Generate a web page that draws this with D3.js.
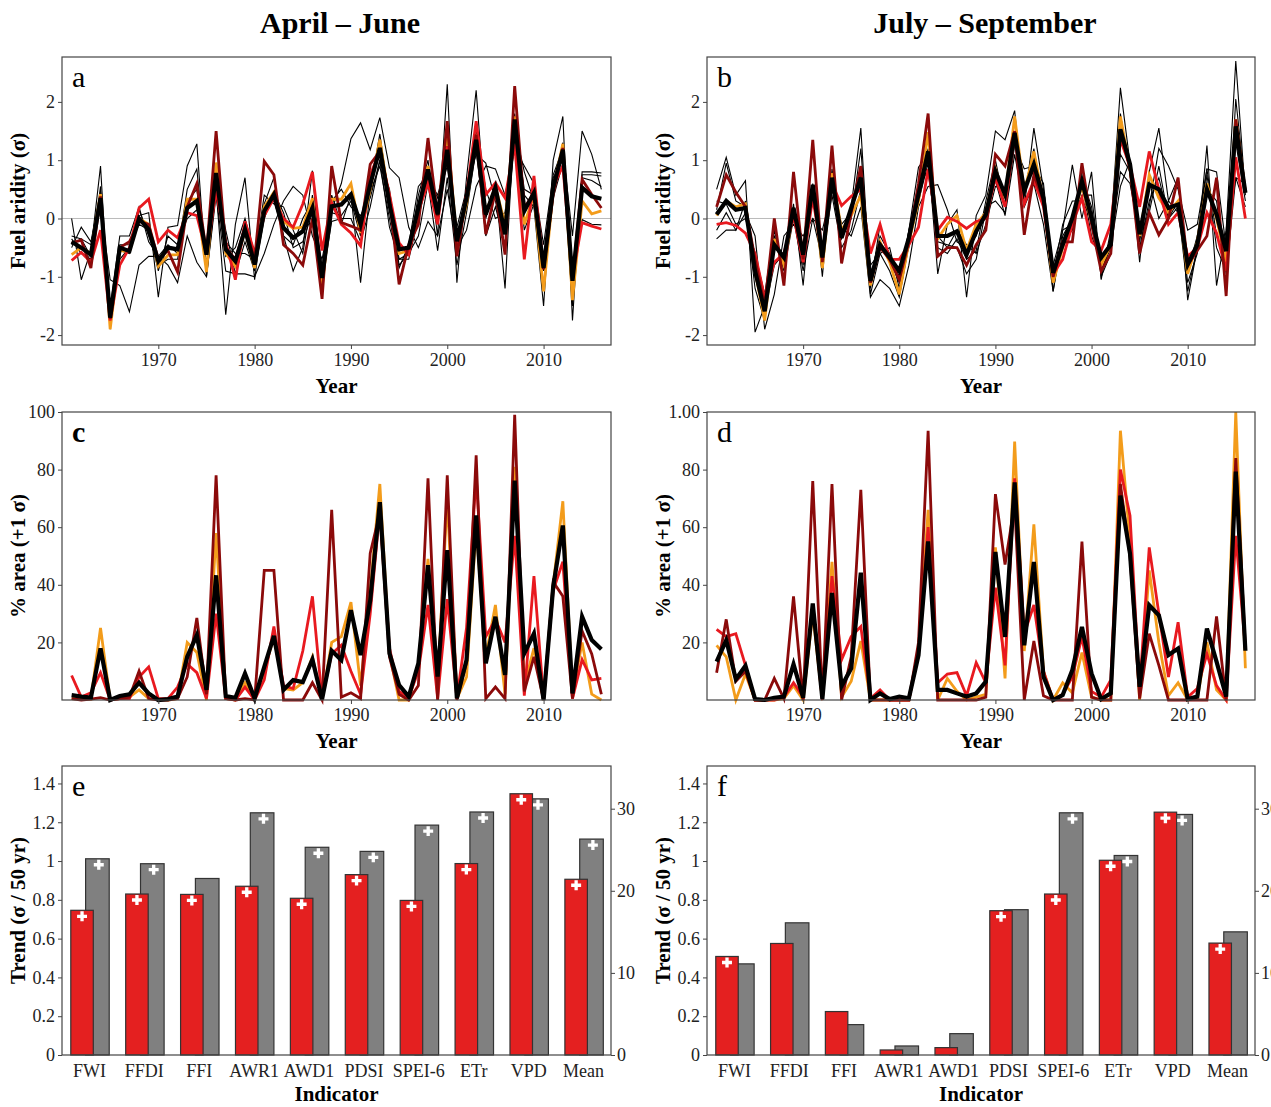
<!DOCTYPE html>
<html>
<head>
<meta charset="utf-8">
<script src="https://cdn.jsdelivr.net/npm/d3@7"></script>
<style>body{margin:0;background:#fff}</style>
</head>
<body>
<script>
var years = d3.range(1961, 2017);
var yearTicks = [1970, 1980, 1990, 2000, 2010];

// ---- panel a : April-June fuel aridity (sigma) ----
var aMean = [-0.4,-0.5,-0.62,0.35,-1.7,-0.5,-0.56,0.0,-0.19,-0.73,
  -0.5,-0.53,0.18,0.3,-0.62,0.78,-0.53,-0.73,-0.19,-0.79,
  0.13,0.41,-0.16,-0.33,-0.22,0.18,-1.02,0.21,0.24,0.41,
  -0.1,0.58,1.21,0.24,-0.53,-0.5,0.18,0.84,0.07,1.18,
  -0.39,0.35,1.35,0.07,0.53,-0.27,1.7,0.13,0.44,-0.85,
  0.53,1.18,-1.07,0.53,0.38,0.34];
var aOrange = [-0.62,-0.5,-0.6,0.42,-1.9,-0.55,-0.57,0.0,-0.1,-0.82,
  -0.63,-0.62,0.33,0.33,-0.92,0.96,-0.6,-0.82,-0.2,-0.85,
  0.2,0.45,-0.05,-0.17,-0.15,0.35,-1.2,0.33,0.33,0.6,
  -0.25,0.5,1.35,0.3,-0.6,-0.55,0.1,0.9,0.05,1.5,
  -0.4,0.25,1.45,0.1,0.55,-0.1,1.75,-0.1,0.4,-1.25,
  0.5,1.28,-1.4,0.3,0.08,0.13];
var aRed = [-0.72,-0.58,-0.75,-0.2,-1.75,-0.8,-0.5,0.18,0.33,-0.4,
  -0.2,-0.33,0.1,0.05,-0.6,0.47,-0.4,-1.05,-0.05,-0.6,
  0.05,0.35,0.0,-0.15,0.25,0.8,-0.55,0.27,-0.1,-0.25,
  -0.47,0.75,1.15,0.41,-0.42,-0.62,0.13,0.61,-0.1,1.24,
  -0.5,0.41,1.67,0.41,0.61,0.35,1.27,-0.7,0.73,-0.85,
  0.55,0.9,-1.0,-0.07,-0.13,-0.18];
var aDark = [-0.42,-0.37,-0.85,0.38,-1.72,-0.5,-0.4,-0.05,-0.1,-0.7,
  -0.55,-0.92,0.2,0.6,-0.6,1.5,-0.5,-0.7,-0.15,-0.7,
  0.98,0.75,-0.45,-0.6,-0.8,0.0,-1.38,0.9,-0.07,-0.13,
  -0.2,0.93,1.15,0.35,-1.13,-0.45,-0.1,1.38,0.04,1.67,
  -0.65,0.41,1.44,-0.27,0.47,-0.62,2.27,0.18,0.44,-0.87,
  0.41,1.21,-1.07,0.67,0.41,0.18];
var aThin1 = [0.0,-1.05,-0.55,0.9,-1.9,-0.45,-0.45,0.05,0.1,-1.35,
  -0.15,-0.12,0.9,1.28,-1.0,0.5,-1.65,-0.1,0.7,-1.05,
  0.25,0.7,-0.3,-0.9,-0.5,0.82,-1.2,0.4,-0.1,0.4,
  -1.1,0.5,1.45,0.3,-0.8,-0.6,0.4,1.0,-0.3,2.3,
  -1.1,0.7,2.2,0.0,0.6,-1.2,1.8,0.4,0.2,-1.5,
  1.0,1.75,-1.75,0.8,0.8,0.78];
var aThin2 = [-0.3,-0.35,-0.45,0.2,-1.05,-1.15,-1.6,-0.8,-0.65,-0.65,
  -0.8,-1.1,-0.3,-0.75,-1.0,0.4,-0.9,-0.95,-0.95,-1.0,
  -0.6,-0.1,0.3,0.55,0.4,-0.3,-0.7,0.15,0.6,1.37,
  1.64,1.18,1.73,0.87,0.7,-0.15,-0.5,-0.05,-0.3,0.5,
  -0.5,-0.2,0.55,0.9,0.85,0.4,1.2,0.9,0.6,-0.45,
  0.75,1.2,-0.3,1.5,1.1,0.5];
var aThin3 = [-0.5,-0.15,-0.4,0.45,-1.55,-0.3,-0.3,0.2,-0.4,-0.65,
  -0.45,-0.6,0.5,0.85,-0.85,0.6,-0.4,-0.6,-0.6,-0.7,
  0.4,0.25,0.2,-0.2,-0.6,0.4,-0.85,0.1,0.05,0.3,
  -0.3,0.45,0.9,0.0,-0.85,-0.45,0.55,0.75,0.35,0.9,
  -0.15,0.5,1.1,0.95,0.3,-0.5,1.65,0.5,0.4,-0.9,
  0.5,1.3,-1.3,0.75,0.75,0.73];
var aThin4 = [-0.35,-0.6,-0.7,0.55,-1.8,-0.55,-0.6,0.15,-0.3,-0.8,
  -0.7,-0.7,0.3,0.5,-0.8,0.7,-0.2,-0.95,-0.4,-0.9,
  0.0,0.45,0.1,-0.5,-0.4,0.1,-0.9,0.3,0.5,0.2,
  0.05,0.35,1.0,0.5,-0.7,-0.7,0.0,0.7,0.4,1.0,
  -0.4,0.2,1.5,0.5,0.0,0.1,1.55,0.8,0.3,-0.8,
  0.35,0.95,-0.9,-0.02,-0.1,-0.11];
var aThin5 = [-0.45,-0.35,-0.65,0.25,-1.6,-0.7,-0.5,-0.1,-0.2,-0.9,
  -0.3,-0.45,0.0,0.15,-0.5,0.9,-0.65,-0.5,0.0,-0.6,
  0.2,0.3,-0.3,-0.45,0.0,0.3,-1.1,-0.05,0.0,0.0,
  -0.4,0.2,1.0,-0.15,-0.7,-0.6,-0.3,0.6,-0.55,0.7,
  -0.8,0.1,1.2,-0.3,0.2,-0.45,1.4,-0.2,0.25,-1.2,
  0.7,1.0,-1.5,0.7,0.65,0.55];

// ---- panel b : July-September fuel aridity (sigma) ----
var bMean = [0.07,0.3,0.15,0.18,-0.9,-1.59,-0.45,-0.67,0.18,-0.62,
  0.58,-0.67,0.7,-0.33,0.18,0.7,-1.07,-0.45,-0.67,-0.9,
  -0.33,0.41,1.15,-0.3,-0.3,-0.22,-0.62,-0.22,0.07,0.81,
  0.41,1.47,0.47,0.93,0.35,-0.93,-0.45,0.01,0.64,0.01,
  -0.67,-0.45,1.53,0.93,-0.27,0.58,0.5,0.18,0.24,-0.79,
  -0.45,0.5,0.07,-0.56,1.58,0.44];
var bOrange = [0.05,0.3,0.2,0.25,-0.9,-1.75,-0.35,-0.8,0.15,-0.65,
  0.55,-0.85,0.78,-0.2,0.05,0.4,-1.15,-0.4,-0.75,-1.3,
  -0.4,0.3,1.48,-0.35,-0.1,0.05,-0.55,-0.1,0.1,0.85,
  0.35,1.75,0.45,1.15,0.3,-1.1,-0.5,0.0,0.55,-0.05,
  -0.8,-0.45,1.75,0.85,-0.3,0.75,0.35,0.1,0.3,-0.95,
  -0.4,0.6,0.0,-0.75,1.7,0.45];
var bRed = [-0.1,-0.07,-0.12,-0.25,-0.6,-1.36,-0.75,-0.6,0.05,-0.75,
  0.35,-0.65,0.6,0.22,0.38,0.5,-0.6,-0.1,-0.7,-0.7,
  -0.45,-0.15,0.85,-0.2,0.02,-0.05,-0.17,-0.05,0.0,0.7,
  0.2,1.45,0.25,0.65,0.2,-0.95,-0.7,-0.1,0.35,-0.4,
  -0.55,-0.1,1.35,0.9,0.2,1.15,0.5,-0.1,0.1,-0.65,
  -0.5,0.1,-0.25,-0.9,1.05,0.0];
var bDark = [0.2,0.75,0.45,0.2,-0.7,-1.5,0.0,-1.15,0.8,-0.7,
  1.35,-0.75,1.25,-0.77,0.1,0.9,-1.1,-0.5,-0.7,-1.05,
  -0.4,0.6,1.8,-0.65,-0.5,-0.5,-0.8,-0.45,-0.2,1.1,
  0.9,1.5,-0.28,0.75,0.3,-1.0,-0.4,-0.4,0.95,-0.1,
  -0.9,-0.6,1.5,0.85,-0.6,0.1,-0.28,0.0,0.7,-0.8,
  -0.55,-0.3,0.7,-1.33,1.7,0.45];
var bThin1 = [0.5,1.05,0.4,0.65,-1.95,-1.5,-0.3,-0.7,0.25,-1.15,
  0.6,-1.0,0.85,-0.3,0.2,1.55,-1.2,-0.1,-0.7,-1.1,
  -0.2,0.88,1.1,-0.95,-0.1,0.15,-1.35,0.05,0.4,1.5,
  1.35,1.85,0.2,1.55,0.5,-1.25,-0.2,0.92,0.0,0.8,
  -1.05,-0.2,2.24,0.95,-0.75,0.8,1.55,0.3,0.7,-1.4,
  -0.5,1.25,-1.15,-0.2,2.7,0.4];
var bThin2 = [-0.35,-0.2,-0.2,0.1,-0.3,-1.9,-1.3,-0.3,-0.1,-0.3,
  0.0,-0.2,0.5,-0.15,-0.3,0.2,-1.35,-1.05,-1.2,-1.5,
  -0.8,0.2,0.55,0.58,0.15,-0.4,-0.5,-0.3,0.2,0.3,
  0.1,1.25,0.85,0.9,0.6,-1.0,-0.1,0.3,0.3,0.0,
  -0.9,-0.5,0.55,1.0,-0.55,0.2,1.2,0.9,0.5,-0.2,
  -0.1,0.85,0.8,-0.5,0.7,0.6];
var bThin3 = [0.15,0.95,0.3,0.2,-1.2,-1.75,-0.45,-0.75,0.1,-0.8,
  0.45,-0.85,0.6,-0.35,0.0,1.2,-1.0,-0.3,-0.6,-1.0,
  -0.5,0.5,1.2,-0.5,-0.6,-0.35,-0.7,-0.55,0.3,1.0,
  0.2,1.5,0.45,1.2,0.2,-1.1,-0.4,-0.2,0.6,-0.3,
  -0.75,-0.35,1.8,0.75,-0.5,0.3,0.7,0.0,0.3,-1.1,
  -0.6,0.75,-0.5,-0.9,2.05,0.5];
var bThin4 = [-0.2,0.1,-0.2,0.3,-1.0,-1.6,-0.8,-0.6,0.2,-0.5,
  0.3,-0.5,0.55,-0.1,0.1,0.75,-1.3,-0.6,-0.9,-1.35,
  -0.45,0.3,0.95,-0.3,-0.5,-0.2,-0.45,-0.6,-0.1,0.55,
  0.5,1.3,0.6,0.8,0.4,-0.8,-0.2,-0.1,0.4,0.4,
  -1.0,-0.6,1.1,0.8,-0.4,0.65,0.0,0.3,0.1,-0.9,
  -0.3,0.85,-0.3,-0.7,1.3,0.3];
var bThin5 = [0.3,0.25,-0.1,0.0,-0.6,-1.3,-0.2,-0.9,0.0,-0.9,
  0.0,-0.7,0.4,-0.5,-0.2,0.5,-0.8,-0.6,-0.5,-1.2,
  -0.2,0.6,0.8,-0.4,-0.45,-0.5,-0.95,-0.7,0.15,0.65,
  0.05,1.1,0.2,0.6,-0.1,-1.25,-0.3,0.0,0.7,0.2,
  -0.95,-0.4,0.8,0.6,-0.3,0.1,0.9,0.0,0.2,-1.25,
  -0.5,0.5,0.3,-0.95,0.7,0.2];

// ---- panel c : April-June % area above +1 sigma ----
var cMean = [1.7,1.2,0.8,17.9,0,1.4,2.0,6.0,2.3,0,
  0.3,1.2,15,22.5,3.5,43.3,1.4,0.8,9.2,0.6,
  11.5,22.3,3.5,6.9,6.2,14.1,0.2,17.1,13.9,31.2,
  15.6,34.6,68.7,16.2,5.2,1.2,12.7,46.8,8.1,52,
  0.6,13.9,64.1,12.7,28.9,8.7,76.2,16.2,23.1,0,
  39.3,60.6,2.3,28.9,20.8,17.6];
var cOrange = [0.5,0.3,0.3,25,0,0.5,1.0,3.5,0.5,0.3,
  0,0.5,20,16.5,0,58,0.5,0,6,0.5,
  10,22,4,3.5,6,15,0,20,22,34,
  5,38,75,16,0,0,12,49,6,70,
  0.5,8,60,15,33,2,81,5,18,0,
  40,69,2,20,2,0];
var cRed = [8.5,1,2.5,9.5,0,0.5,0.5,8,11.5,0.5,
  0.5,4.5,12.5,9.5,0.5,30,0.5,0,4.5,0,
  7,25.5,5,4,17,36,0.5,16,19,10,
  2,30,66,18,3,1,10,33,0.5,35,
  0.5,25,78,22,28,20,57,1.5,43,0.5,
  38,48,0.5,14,7,7.5];
var cDark = [0.5,0,0.3,0.8,0,0.5,1,10,0.5,0,
  0,0.5,8,28.5,2,78,0.5,0,0.5,0,
  45,45,0,0,0,6,0,66,1,2.5,
  0.5,51,65,15,2,0,5,77,0,78,
  0,13,85,0.5,4.5,0.5,99,3,15,0,
  41,36,0.5,24,16,2];

// ---- panel d : July-September % area above +1 sigma ----
var dMean = [13.3,20.8,7.2,11.9,0.3,0,0.8,1.2,12.4,0.8,
  33.5,0.3,37.2,4.8,11,44.2,0,2.3,0.3,1.2,
  0.6,15.6,55.1,3.5,3.5,2.3,1.2,2.3,6.4,51.4,
  21.9,75.6,19,47.9,8.1,0,1.7,10.4,25.4,9.2,
  0.3,2.3,71,50.8,4.6,32.9,29.4,15.6,17.9,0.3,
  1.2,24.8,13.3,1.2,79.3,17.1];
var dOrange = [19,15,0,9,0,0,0,0.5,5,0,
  30,0,48,1,6.5,20.5,0,0,0,0,
  0,17,66,0,7.5,3,0,1,2,53,
  7.5,89.7,17,61,10,0,6,2.5,16.5,1,
  0,0,93.5,55,0,45,20,1.5,6,0,
  0.5,20,3.5,0,100,11];
var dRed = [24.5,22,23,12,0,0,0,1,6,1,
  32,0,43,14,22,25.5,0.5,3.5,0,0,
  0,17,60,6,9,9.5,1.5,13,6,39,
  12,77,23,33,10,0,2,8,22,3,
  1,7,80,64,4,53,30,8,27,1,
  4,16,5,0,57,18];
var dDark = [9.5,28,6.5,10,0,0,7.5,0.5,36,0,
  76,0,75,0,15,73,0,0,0,0,
  0,20,93.5,0,0,0,0,0,1,71.5,
  47,68,0,20.5,1.5,0,0,0,55,1,
  0,0,75,50,0.5,23,12,0,0,0,
  0,0,29,0,84,18];

// ---- panels e, f : trends ----
var indicators = ["FWI","FFDI","FFI","AWR1","AWD1","PDSI","SPEI-6","ETr","VPD","Mean"];
var eTrend = [0.746,0.83,0.828,0.87,0.808,0.93,0.797,0.987,1.347,0.906];
var eArea  = [23.9,23.3,21.5,29.5,25.3,24.8,28.0,29.6,31.2,26.3];
var eTrendSig = [1,1,1,1,1,1,1,1,1,1];
var eAreaSig  = [1,1,0,1,1,1,1,1,1,1];
var fTrend = [0.508,0.575,0.224,0.026,0.038,0.744,0.83,1.004,1.252,0.577];
var fArea  = [11.1,16.1,3.7,1.1,2.6,17.7,29.5,24.3,29.3,15.0];
var fTrendSig = [1,0,0,0,0,1,1,1,1,1];
var fAreaSig  = [0,0,0,0,0,0,1,1,1,0];

var colOrange = "#f39c1b", colRed = "#e8191f", colDark = "#8b0a0a";
var serif = "'Liberation Serif', 'Times New Roman', serif";
var cols = [{x0: 62, x1: 611}, {x0: 707, x1: 1255}];

var svg = d3.select("body").append("svg")
    .attr("width", 1271).attr("height", 1107)
    .style("font-family", serif);

// column titles
svg.append("text").attr("x", 340).attr("y", 33).attr("text-anchor", "middle")
    .attr("font-size", 30).attr("font-weight", "bold").text("April \u2013 June");
svg.append("text").attr("x", 985).attr("y", 33).attr("text-anchor", "middle")
    .attr("font-size", 30).attr("font-weight", "bold").text("July \u2013 September");

function styleAxis(g) {
    g.select(".domain").remove();
    g.selectAll(".tick line").attr("stroke", "#444");
    g.selectAll(".tick text").attr("font-family", serif).attr("font-size", 18).attr("fill", "#222");
}

function frame(col, top, bottom) {
    svg.append("rect").attr("x", col.x0).attr("y", top)
        .attr("width", col.x1 - col.x0).attr("height", bottom - top)
        .attr("fill", "none").attr("stroke", "#444").attr("stroke-width", 1.2);
}

function yLabel(col, top, bottom, label) {
    svg.append("text")
        .attr("transform", "translate(" + (col.x0 - 37) + "," + ((top + bottom) / 2) + ") rotate(-90)")
        .attr("text-anchor", "middle").attr("font-size", 21).attr("font-weight", "bold")
        .text(label);
}

function letter(col, top, txt, bold) {
    svg.append("text").attr("x", col.x0 + 10).attr("y", top + 30)
        .attr("font-size", 30).attr("font-weight", bold ? "bold" : "normal").text(txt);
}

function linePanel(col, top, bottom, opts) {
    var x = d3.scaleLinear().domain([1960, 2017]).range([col.x0, col.x1]);
    var y = d3.scaleLinear().domain(opts.yDomain).range([bottom, top]);

    if (opts.zero) {
        svg.append("line").attr("x1", col.x0).attr("x2", col.x1)
            .attr("y1", y(0)).attr("y2", y(0)).attr("stroke", "#bbb").attr("stroke-width", 1);
    }

    var line = d3.line().x(function (d, i) { return x(years[i]); }).y(function (d) { return y(d); });

    (opts.thin || []).forEach(function (s) {
        svg.append("path").datum(s).attr("d", line).attr("fill", "none")
            .attr("stroke", "#000").attr("stroke-width", 1.1).attr("stroke-linejoin", "miter");
    });
    opts.series.forEach(function (s) {
        svg.append("path").datum(s.values).attr("d", line).attr("fill", "none")
            .attr("stroke", s.color).attr("stroke-width", s.width).attr("stroke-linejoin", "miter");
    });

    frame(col, top, bottom);

    svg.append("g").attr("transform", "translate(0," + bottom + ")")
        .call(d3.axisBottom(x).tickValues(yearTicks).tickFormat(d3.format("d")).tickSize(4).tickPadding(4))
        .call(styleAxis);
    svg.append("g").attr("transform", "translate(" + col.x0 + ",0)")
        .call(d3.axisLeft(y).tickValues(opts.yTicks).tickFormat(opts.yFormat).tickSize(4).tickPadding(3))
        .call(styleAxis);

    svg.append("text").attr("x", (col.x0 + col.x1) / 2).attr("y", bottom + 48)
        .attr("text-anchor", "middle").attr("font-size", 21).attr("font-weight", "bold").text("Year");
    yLabel(col, top, bottom, opts.yLabel);
    letter(col, top, opts.letter, opts.letterBold);
}

function barPanel(col, top, bottom, trend, area, trendSig, areaSig, txt) {
    var x = d3.scaleBand().domain(indicators).range([col.x0, col.x1]);
    var yL = d3.scaleLinear().domain([0, 1.49]).range([bottom, top]);
    var yR = d3.scaleLinear().domain([0, 35.2]).range([bottom, top]);
    var bw = x.bandwidth();
    var cx = function (i) { return x(indicators[i]) + bw / 2; };

    svg.append("g").selectAll("rect").data(area).enter().append("rect")
        .attr("x", function (d, i) { return cx(i) - 0.07 * bw; })
        .attr("width", 0.43 * bw)
        .attr("y", function (d) { return yR(d); })
        .attr("height", function (d) { return bottom - yR(d); })
        .attr("fill", "#808080").attr("stroke", "#333").attr("stroke-width", 1.2);

    svg.append("g").selectAll("rect").data(trend).enter().append("rect")
        .attr("x", function (d, i) { return cx(i) - 0.34 * bw; })
        .attr("width", 0.41 * bw)
        .attr("y", function (d) { return yL(d); })
        .attr("height", function (d) { return bottom - yL(d); })
        .attr("fill", "#e42020").attr("stroke", "#333").attr("stroke-width", 1.2);

    var cross = d3.symbol().type(d3.symbolCross).size(55);
    trend.forEach(function (d, i) {
        if (!trendSig[i]) return;
        svg.append("path").attr("d", cross)
            .attr("transform", "translate(" + (cx(i) - 0.135 * bw) + "," + (yL(d) + 6) + ")")
            .attr("fill", "#fff");
    });
    area.forEach(function (d, i) {
        if (!areaSig[i]) return;
        svg.append("path").attr("d", cross)
            .attr("transform", "translate(" + (cx(i) + 0.17 * bw) + "," + (yR(d) + 6) + ")")
            .attr("fill", "#fff");
    });

    frame(col, top, bottom);

    svg.append("g").attr("transform", "translate(0," + bottom + ")")
        .call(d3.axisBottom(x).tickSize(0).tickPadding(9))
        .call(styleAxis);
    svg.append("g").attr("transform", "translate(" + col.x0 + ",0)")
        .call(d3.axisLeft(yL).tickValues([0, 0.2, 0.4, 0.6, 0.8, 1, 1.2, 1.4])
            .tickFormat(function (d) { return String(+d.toFixed(1)); }).tickSize(4).tickPadding(3))
        .call(styleAxis);
    svg.append("g").attr("transform", "translate(" + col.x1 + ",0)")
        .call(d3.axisRight(yR).tickValues([0, 10, 20, 30]).tickSize(4).tickPadding(2))
        .call(styleAxis);

    svg.append("text").attr("x", (col.x0 + col.x1) / 2).attr("y", bottom + 46)
        .attr("text-anchor", "middle").attr("font-size", 21).attr("font-weight", "bold").text("Indicator");
    yLabel(col, top, bottom, "Trend (\u03c3 / 50 yr)");
    letter(col, top, txt, false);
}

var sigFormat = function (d) { return String(d); };

linePanel(cols[0], 57, 345, {
    yDomain: [-2.17, 2.77], yTicks: [-2, -1, 0, 1, 2], yFormat: sigFormat, zero: true,
    thin: [aThin1, aThin2, aThin3, aThin4, aThin5],
    series: [
        { values: aOrange, color: colOrange, width: 2.8 },
        { values: aRed, color: colRed, width: 2.8 },
        { values: aDark, color: colDark, width: 2.8 },
        { values: aMean, color: "#000", width: 4.2 }
    ],
    yLabel: "Fuel aridity (\u03c3)", letter: "a"
});
linePanel(cols[1], 57, 345, {
    yDomain: [-2.17, 2.77], yTicks: [-2, -1, 0, 1, 2], yFormat: sigFormat, zero: true,
    thin: [bThin1, bThin2, bThin3, bThin4, bThin5],
    series: [
        { values: bOrange, color: colOrange, width: 2.8 },
        { values: bRed, color: colRed, width: 2.8 },
        { values: bDark, color: colDark, width: 2.8 },
        { values: bMean, color: "#000", width: 4.2 }
    ],
    yLabel: "Fuel aridity (\u03c3)", letter: "b"
});
linePanel(cols[0], 412, 700, {
    yDomain: [0, 100], yTicks: [20, 40, 60, 80, 100], yFormat: d3.format("d"),
    series: [
        { values: cOrange, color: colOrange, width: 2.8 },
        { values: cRed, color: colRed, width: 2.8 },
        { values: cDark, color: colDark, width: 2.8 },
        { values: cMean, color: "#000", width: 4.2 }
    ],
    yLabel: "% area (+1 \u03c3)", letter: "c", letterBold: true
});
linePanel(cols[1], 412, 700, {
    yDomain: [0, 100], yTicks: [20, 40, 60, 80, 100],
    yFormat: function (d) { return d === 100 ? "1.00" : String(d); },
    series: [
        { values: dOrange, color: colOrange, width: 2.8 },
        { values: dRed, color: colRed, width: 2.8 },
        { values: dDark, color: colDark, width: 2.8 },
        { values: dMean, color: "#000", width: 4.2 }
    ],
    yLabel: "% area (+1 \u03c3)", letter: "d"
});

barPanel(cols[0], 766, 1055, eTrend, eArea, eTrendSig, eAreaSig, "e");
barPanel(cols[1], 766, 1055, fTrend, fArea, fTrendSig, fAreaSig, "f");
</script>
</body>
</html>
